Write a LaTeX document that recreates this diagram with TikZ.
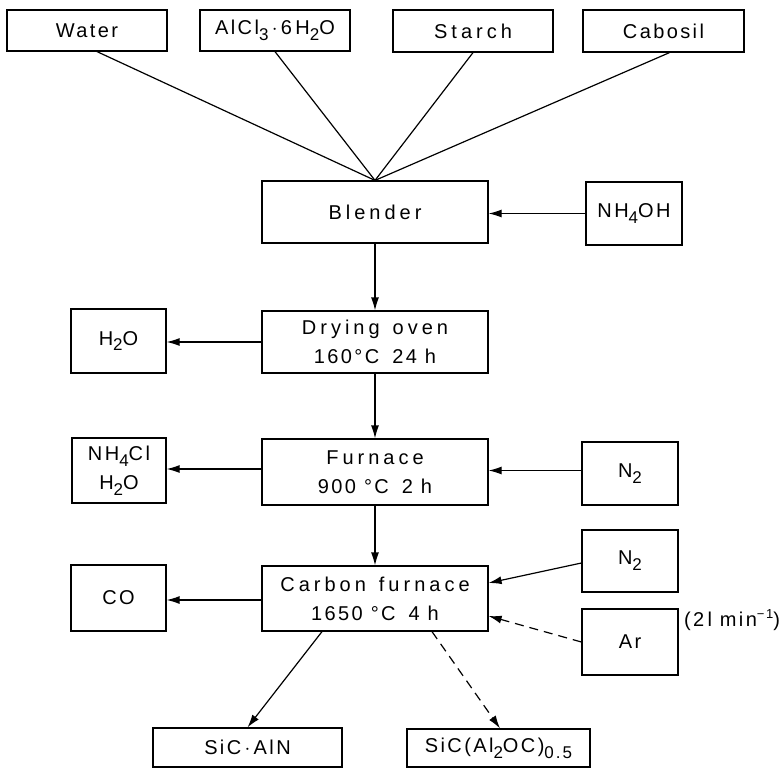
\documentclass[tikz,border=0pt]{standalone}
\usepackage{fontspec}
\setmainfont[LetterSpace=12]{Liberation Sans}
\newfontfamily\widefont[LetterSpace=20]{Liberation Sans}
\usetikzlibrary{arrows.meta}
\newcommand\chsub[1]{\raisebox{-0.55ex}{\fontsize{17}{17}\selectfont #1}}
\newcommand\chsup[1]{\raisebox{0.8ex}{\fontsize{13}{13}\selectfont #1}}
\newcommand\gap{\hspace*{13pt}}
\begin{document}
\begin{tikzpicture}[x=1pt,y=-1pt,
  box/.style={draw, line width=1.2pt, inner sep=0pt, align=center, font=\fontsize{20}{29}\selectfont},
  arr/.style={line width=1.2pt, -{Latex[length=13pt,width=8pt]}},
  feed/.style={line width=1.2pt},
  dasharr/.style={arr, dash pattern=on 9pt off 6pt}]
\useasboundingbox (0,0) rectangle (780,769);
% top inputs
\node[box, minimum width=160pt, minimum height=41pt] (water) at (87,30.5) {Water};
\node[box, minimum width=150pt, minimum height=41pt] (alcl) at (275,30.5) {AlCl\chsub{3}\,$\cdot$\,6\,H\chsub{2}O};
\node[box, minimum width=160pt, minimum height=42pt] (starch) at (473,31) {\widefont Starch};
\node[box, minimum width=161pt, minimum height=42pt] (cabosil) at (663.5,31) {Cabosil};
% main column
\node[box, minimum width=226pt, minimum height=62pt] (blender) at (375,212) {\widefont Blender};
\node[box, minimum width=96pt, minimum height=63pt] (nh4oh) at (634,213.5) {NH\chsub{4}OH};
\node[box, minimum width=226pt, minimum height=62pt] (drying) at (375,342) {\widefont Drying\gap{}oven\\ 160°C\gap{}24 h};
\node[box, minimum width=95pt, minimum height=64pt] (h2o) at (118.5,341) {H\chsub{2}O};
\node[box, minimum width=226pt, minimum height=66pt] (furnace) at (375,472) {\widefont Furnace\\ 900 °C\gap{}2 h};
\node[box, minimum width=94pt, minimum height=65pt] (nh4cl) at (119,470.5) {NH\chsub{4}Cl\\ H\chsub{2}O};
\node[box, minimum width=96pt, minimum height=63pt] (n2a) at (630,473.5) {N\chsub{2}};
\node[box, minimum width=226pt, minimum height=65pt] (carbon) at (375,598.5) {\widefont Carbon\gap{}furnace\\ 1650 °C\gap{}4 h};
\node[box, minimum width=95pt, minimum height=66pt] (co) at (118.5,598) {CO};
\node[box, minimum width=96pt, minimum height=62pt] (n2b) at (630,561) {N\chsub{2}};
\node[box, minimum width=96pt, minimum height=66pt] (ar) at (630,642) {Ar};
\node[font=\fontsize{20}{29}\selectfont, inner sep=0pt] (flow) at (732,620) {(2\,l min\chsup{−1})};
\node[box, minimum width=189pt, minimum height=39pt] (sicaln) at (247.5,747.5) {SiC\,$\cdot$\,AlN};
\node[box, minimum width=183pt, minimum height=38pt] (sicaloc) at (498.5,748) {SiC(Al\chsub{2}OC)\chsub{0.5}};
% feed lines
\draw[feed] ([xshift=10pt]water.south) -- (blender.north);
\draw[feed] (alcl.south) -- (blender.north);
\draw[feed] (starch.south) -- (blender.north);
\draw[feed] ([xshift=6pt]cabosil.south) -- (blender.north);
% arrows
\draw[arr] (nh4oh.west) -- (nh4oh.west -| blender.east);
\draw[arr] (blender.south) -- (drying.north);
\draw[arr] (drying.west) -- (drying.west -| h2o.east);
\draw[arr] (drying.south) -- (furnace.north);
\draw[arr] ([yshift=3pt]furnace.west) -- ([yshift=3pt]furnace.west -| nh4cl.east);
\draw[arr] ([yshift=3pt]n2a.west) -- ([yshift=3pt]n2a.west -| furnace.east);
\draw[arr] (furnace.south) -- (carbon.north);
\draw[arr] ([yshift=-1.5pt]carbon.west) -- ([yshift=-1.5pt]carbon.west -| co.east);
\draw[arr] ([yshift=-2pt]n2b.west) -- ([yshift=15.5pt]carbon.east);
\draw[dasharr] (ar.west) -- ([yshift=-17.5pt]carbon.east);
\draw[arr] ([xshift=-53pt]carbon.south) -- (sicaln.north);
\draw[dasharr] ([xshift=57pt]carbon.south) -- ([xshift=1.5pt]sicaloc.north);
\end{tikzpicture}
\end{document}
